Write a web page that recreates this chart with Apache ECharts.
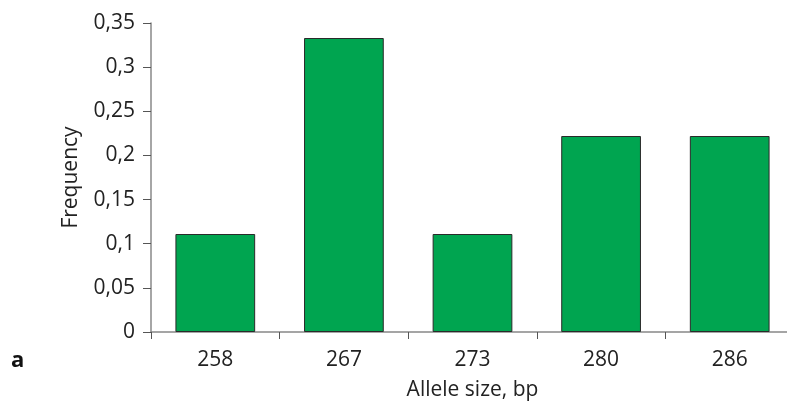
<!DOCTYPE html>
<html>
<head>
<meta charset="utf-8">
<script src="https://cdn.jsdelivr.net/npm/echarts@6/dist/echarts.min.js"></script>
<style>
  html, body { margin: 0; padding: 0; background: #fff; }
  #chart { width: 787px; height: 403px; }
</style>
</head>
<body>
<div id="chart"></div>
<script>
// Allele sizes (bp) and their observed frequencies
const alleleSizes = ['258', '267', '273', '280', '286'];
const frequencies = [0.111, 0.333, 0.111, 0.222, 0.222];
const yTickMax = 0.35;
const yTickStep = 0.05;

const FONT = '"Open Sans", sans-serif';

const chart = echarts.init(document.getElementById('chart'), null, { renderer: 'canvas' });

chart.setOption({
  animation: false,
  grid: {
    left: 151, top: 23, width: 643, height: 309,
    containLabel: false,
    outerBoundsMode: 'none'
  },
  graphic: [{
    type: 'text',
    left: 11,
    top: 350,
    style: { text: 'a', font: 'bold 22px ' + FONT, fill: '#111' }
  }],
  xAxis: {
    type: 'category',
    data: alleleSizes,
    name: 'Allele size, bp',
    nameLocation: 'middle',
    nameGap: 48,
    nameTextStyle: { fontFamily: FONT, fontSize: 21, color: '#222' },
    axisLine: { lineStyle: { color: '#888', width: 1.5 } },
    axisTick: { show: true, length: 7, lineStyle: { color: '#555', width: 1 } },
    axisLabel: { fontFamily: FONT, fontSize: 21, color: '#222', margin: 18 },
    splitLine: { show: false }
  },
  yAxis: {
    type: 'value',
    min: 0,
    max: yTickMax,
    interval: yTickStep,
    name: 'Frequency',
    nameLocation: 'middle',
    nameGap: 69,
    nameRotate: 90,
    nameTextStyle: { fontFamily: FONT, fontSize: 21, color: '#222' },
    axisLine: { show: true, lineStyle: { color: '#888', width: 1.5 } },
    axisTick: { show: true, length: 8, lineStyle: { color: '#555', width: 1 } },
    axisLabel: {
      fontFamily: FONT, fontSize: 21, color: '#222', margin: 16,
      formatter: v => String(Math.round(v * 100) / 100).replace('.', ',')
    },
    splitLine: { show: false }
  },
  series: [{
    type: 'bar',
    data: frequencies,
    barWidth: '62%',
    itemStyle: { color: '#00a550', borderColor: '#2a2a2a', borderWidth: 1 }
  }]
});
</script>
</body>
</html>
